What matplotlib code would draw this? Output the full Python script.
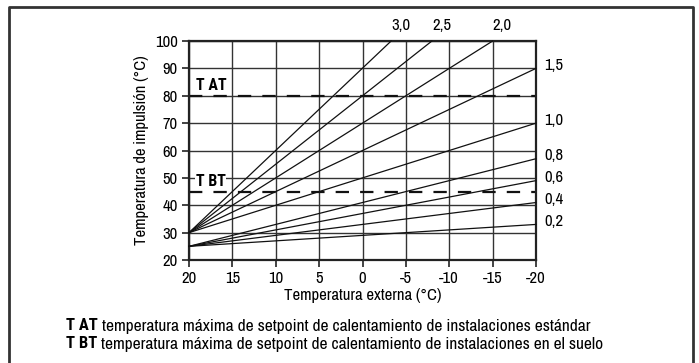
import matplotlib.pyplot as plt
from matplotlib.lines import Line2D

plt.rcParams['font.family'] = ['Archivo Narrow', 'Liberation Sans', 'DejaVu Sans']
bold_family = ['Roboto Condensed', 'Fira Sans Condensed', 'Liberation Sans']

# heating curves: start at outside temp 20 °C, end where they leave the chart
curve_labels = ["3,0", "2,5", "2,0", "1,5", "1,0", "0,8", "0,6", "0,4", "0,2"]
curve_start_y = [30, 30, 30, 30, 30, 25, 25, 25, 25]
curve_end_x = [-3.3, -8, -15, -20, -20, -20, -20, -20, -20]
curve_end_y = [100, 100, 100, 90, 70, 57, 49, 41, 33]

x_ticks = [20, 15, 10, 5, 0, -5, -10, -15, -20]
y_ticks = [20, 30, 40, 50, 60, 70, 80, 90, 100]

t_at = 80
t_bt = 45

footnotes = [
    ("T AT", " temperatura máxima de setpoint de calentamiento de instalaciones estándar"),
    ("T BT", " temperatura máxima de setpoint de calentamiento de instalaciones en el suelo"),
]

fig = plt.figure(figsize=(6.99, 3.63), dpi=100)
ax = fig.add_axes([0.2704, 0.2837, 0.4964, 0.6033])

ax.set_xlim(20, -20)
ax.set_ylim(20, 100)
ax.set_xticks(x_ticks)
ax.set_yticks(y_ticks)
ax.set_xticklabels([str(v) for v in x_ticks])
ax.tick_params(direction='out', length=5, width=1.2, color='#222222',
               labelsize=12, pad=3)
ax.grid(True, color='#333333', linewidth=1.0)
ax.set_axisbelow(True)
for s in ax.spines.values():
    s.set_linewidth(1.6)
    s.set_color('#222222')

# curves
for i in range(len(curve_labels)):
    ax.plot([20, curve_end_x[i]], [curve_start_y[i], curve_end_y[i]],
            color='#111111', linewidth=0.9, clip_on=False, zorder=3)
    if curve_end_y[i] >= 100:
        ax.annotate(curve_labels[i], (curve_end_x[i], curve_end_y[i]),
                    xytext=(7, 6), textcoords='offset points',
                    ha='center', va='bottom', fontsize=12)
    else:
        ax.annotate(curve_labels[i], (curve_end_x[i], curve_end_y[i]),
                    xytext=(6, 2), textcoords='offset points',
                    ha='left', va='center', fontsize=12)

# limit temperatures
ax.axhline(t_at, color='#111111', linewidth=1.6, linestyle=(0, (6, 5)), zorder=2)
ax.axhline(t_bt, color='#111111', linewidth=1.6, linestyle=(0, (6, 5)), zorder=2)
ax.text(19.2, t_at + 1.0, "T AT", fontsize=11.5, fontweight='bold', family=bold_family,
        ha='left', va='bottom', bbox=dict(facecolor='white', edgecolor='none', pad=0.5), zorder=4)
ax.text(19.2, t_bt + 1.0, "T BT", fontsize=11.5, fontweight='bold', family=bold_family,
        ha='left', va='bottom', bbox=dict(facecolor='white', edgecolor='none', pad=0.5), zorder=4)

ax.set_xlabel("Temperatura externa (°C)", fontsize=12, labelpad=1)
ax.set_ylabel("Temperatura de impulsión (°C)", fontsize=12, labelpad=4)

# footnotes
for i, (key, desc) in enumerate(footnotes):
    y = 1 - (326 + i * 18) / 363
    t = fig.text(66 / 699, y, key, fontsize=12, fontweight='bold', family=bold_family,
                 va='center')
    fig.canvas.draw()
    bb = t.get_window_extent()
    fig.text(bb.x1 / fig.bbox.width, y, desc, fontsize=12.5, va='center')

# outer frame (left, top, right)
fx0, fx1, fy1 = 8.5 / 699, 692.5 / 699, 1 - 6.5 / 363
fig.add_artist(Line2D([fx0, fx0, fx1, fx1], [0, fy1, fy1, 0],
                      transform=fig.transFigure, color='#333333', linewidth=2))

plt.savefig("out.png", dpi=100)
